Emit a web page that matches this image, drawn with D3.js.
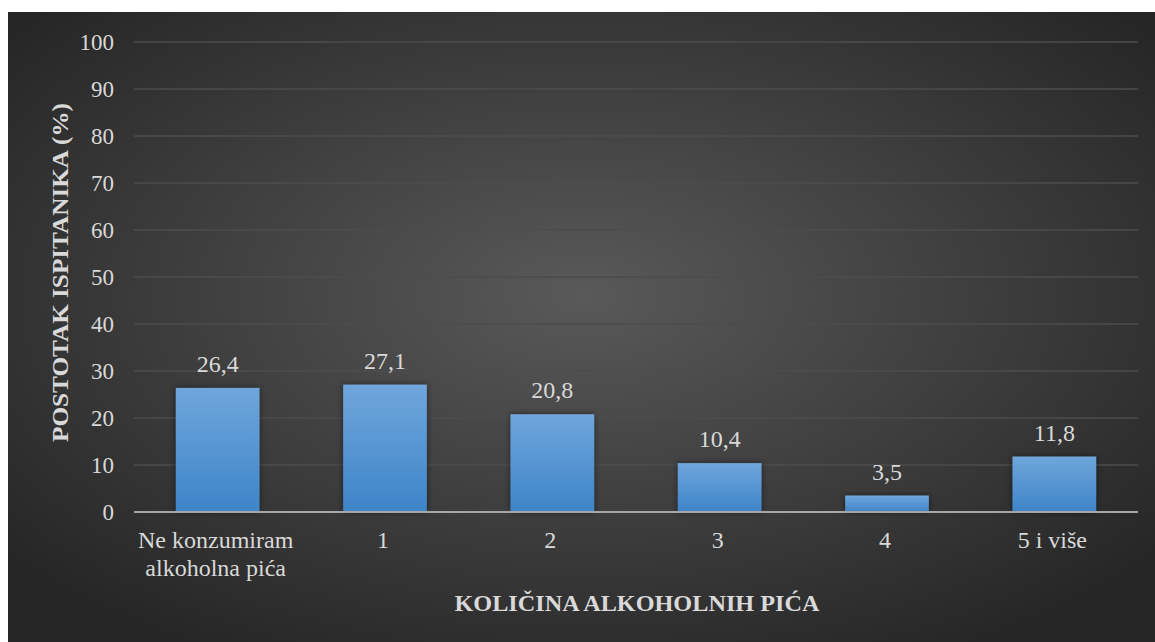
<!DOCTYPE html>
<html><head><meta charset="utf-8">
<script src="https://cdn.jsdelivr.net/npm/d3@7"></script>
<style>html,body{margin:0;padding:0;background:#fff;}svg{display:block;}</style>
</head><body>
<script>
const categories = [["Ne konzumiram","alkoholna pića"],["1"],["2"],["3"],["4"],["5 i više"]];
const values = [26.4, 27.1, 20.8, 10.4, 3.5, 11.8];
const valueLabels = ["26,4","27,1","20,8","10,4","3,5","11,8"];
const yTicks = [0,10,20,30,40,50,60,70,80,90,100];
const xTitle = "KOLIČINA ALKOHOLNIH PIĆA";
const yTitle = "POSTOTAK ISPITANIKA (%)";

const W = 1155, H = 642;
const FF = '"Liberation Serif"';
const svg = d3.select("body").append("svg").attr("width", W).attr("height", H);
const defs = svg.append("defs");
const bg = defs.append("radialGradient").attr("id","bg").attr("cx","50%").attr("cy","45%").attr("r","65%");
bg.append("stop").attr("offset","0%").attr("stop-color","#595959");
bg.append("stop").attr("offset","100%").attr("stop-color","#262626");
const bar = defs.append("linearGradient").attr("id","bar").attr("x1",0).attr("y1",0).attr("x2",0).attr("y2",1);
bar.append("stop").attr("offset","0%").attr("stop-color","#6fa6dc");
bar.append("stop").attr("offset","100%").attr("stop-color","#3e84c8");
const f = defs.append("filter").attr("id","sh").attr("x","-20%").attr("y","-20%").attr("width","140%").attr("height","140%");
f.append("feDropShadow").attr("dx",0).attr("dy",0).attr("stdDeviation",3).attr("flood-color","#000").attr("flood-opacity",0.5);

svg.append("rect").attr("x",8).attr("y",12).attr("width",W-8).attr("height",H-12).attr("fill","url(#bg)");

const x0 = 134, x1 = 1138, yTop = 42, yBot = 512;
const x = d3.scaleBand().domain(d3.range(categories.length)).range([x0,x1]).paddingInner(0.5).paddingOuter(0.25);
const y = d3.scaleLinear().domain([0,100]).range([yBot,yTop]);
const txt = "#d9d9d9";

// grid
svg.append("g").selectAll("line").data(yTicks.filter(d=>d>0)).join("line")
  .attr("x1",x0).attr("x2",x1).attr("y1",d=>y(d)).attr("y2",d=>y(d))
  .attr("stroke","#4d4d4d").attr("stroke-width",1.5);

// y axis labels
const yAxis = d3.axisLeft(y).tickValues(yTicks).tickSize(0).tickPadding(20);
const ya = svg.append("g").attr("transform",`translate(${x0},0)`).call(yAxis);
ya.select(".domain").remove();
ya.selectAll("text").attr("fill",txt).style("font-family",FF).style("font-size","23px");

// bars
svg.append("g").selectAll("rect").data(values).join("rect")
  .attr("x",(d,i)=>x(i)).attr("width",x.bandwidth())
  .attr("y",d=>y(d)).attr("height",d=>y(0)-y(d))
  .attr("fill","url(#bar)").attr("filter","url(#sh)");

// value labels
svg.append("g").selectAll("text").data(values).join("text")
  .attr("x",(d,i)=>x(i)+x.bandwidth()/2).attr("y",d=>y(d)-16)
  .attr("text-anchor","middle").attr("fill",txt)
  .style("font-family",FF).style("font-size","24px")
  .text((d,i)=>valueLabels[i]);

// x axis line
svg.append("line").attr("x1",x0).attr("x2",x1).attr("y1",y(0)).attr("y2",y(0))
  .attr("stroke","#a6a6a6").attr("stroke-width",2);

// category labels
const cg = svg.append("g").selectAll("text").data(categories).join("text")
  .attr("text-anchor","middle").attr("fill",txt)
  .style("font-family",FF).style("font-size","24px");
cg.each(function(lines,i){
  const t = d3.select(this);
  lines.forEach((l,j)=>{
    t.append("tspan").attr("x",x(i)+x.bandwidth()/2 - 2).attr("y",548+j*28).text(l);
  });
});

// titles
svg.append("text").attr("x",637).attr("y",611).attr("text-anchor","middle")
  .attr("fill",txt).style("font-family",FF).style("font-size","24px").style("font-weight","bold")
  .attr("textLength",365).attr("lengthAdjust","spacingAndGlyphs")
  .text(xTitle);
svg.append("text").attr("transform",`translate(68,272.5) rotate(-90)`).attr("text-anchor","middle")
  .attr("fill",txt).style("font-family",FF).style("font-size","24px").style("font-weight","bold")
  .attr("textLength",339).attr("lengthAdjust","spacingAndGlyphs")
  .text(yTitle);
</script>
</body></html>
